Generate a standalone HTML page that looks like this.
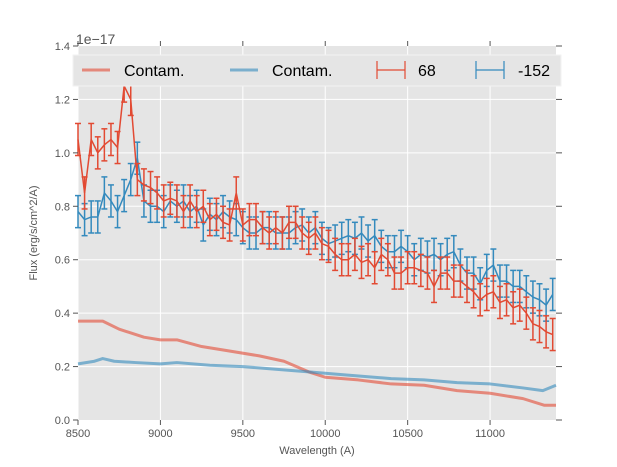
<!DOCTYPE html>
<html><head><meta charset="utf-8"><style>
html,body{margin:0;padding:0;background:#fff;}
svg{display:block;font-family:"Liberation Sans","DejaVu Sans",sans-serif;}
</style></head><body>
<svg id="chart" width="617" height="467" viewBox="0 0 617 467">
<rect x="78" y="46" width="478" height="374" fill="#e5e5e5"/>
<g id="grid"></g>
<g id="series"></g>
<g id="axes"></g>
<text x="76" y="44" font-size="14" fill="#555">1e−17</text>
<text x="317" y="454" font-size="11" fill="#555" text-anchor="middle">Wavelength (A)</text>
<text transform="translate(40,233) rotate(-90)" font-size="11" fill="#555" text-anchor="middle" dy="0" x="0" y="0" style="transform:translate(37px,233px) rotate(-90deg)">Flux (erg/s/cm^2/A)</text>
<g>
<rect x="73" y="55" width="488" height="31" fill="#e5e5e5" stroke="#f2f2f2" stroke-width="1"/>
<g>
<line x1="82" y1="70" x2="110" y2="70" stroke="#E24A33" stroke-opacity="0.6" stroke-width="3"/>
<text x="124" y="76" font-size="16" fill="#000">Contam.</text></g>
<g>
<line x1="230" y1="70" x2="258" y2="70" stroke="#348ABD" stroke-opacity="0.6" stroke-width="3"/>
<text x="272" y="76" font-size="16" fill="#000">Contam.</text></g>
<g stroke="#E24A33" stroke-width="1.2">
<line x1="377" y1="70" x2="405" y2="70"/><line x1="377" y1="61" x2="377" y2="79"/><line x1="405" y1="61" x2="405" y2="79"/>
<text x="418" y="76" font-size="16" fill="#000" stroke="none">68</text></g>
<g stroke="#348ABD" stroke-width="1.2">
<line x1="476" y1="70" x2="504" y2="70"/><line x1="476" y1="61" x2="476" y2="79"/><line x1="504" y1="61" x2="504" y2="79"/>
<text x="518" y="76" font-size="16" fill="#000" stroke="none">-152</text></g>
</g>
</svg>
<script>
const wave = [];
for (let w = 8500; w <= 11380; w += 40) wave.push(w);
const fluxRed = [1.05,0.85,1.05,1.0,1.03,1.05,1.02,1.25,1.2,0.9,0.88,0.87,0.85,0.82,0.83,0.82,0.78,0.82,0.78,0.8,0.75,0.77,0.74,0.73,0.85,0.73,0.75,0.75,0.72,0.7,0.72,0.7,0.74,0.74,0.7,0.68,0.7,0.66,0.65,0.62,0.6,0.6,0.62,0.59,0.6,0.57,0.62,0.6,0.55,0.55,0.57,0.57,0.56,0.55,0.5,0.55,0.55,0.52,0.52,0.5,0.48,0.45,0.47,0.48,0.44,0.45,0.42,0.43,0.4,0.36,0.35,0.33,0.32];
const fluxBlue = [0.78,0.75,0.76,0.76,0.85,0.82,0.78,0.84,0.9,0.98,0.82,0.8,0.8,0.78,0.82,0.8,0.82,0.78,0.8,0.73,0.77,0.75,0.78,0.76,0.75,0.72,0.7,0.7,0.72,0.72,0.7,0.7,0.7,0.72,0.73,0.7,0.72,0.68,0.66,0.67,0.68,0.69,0.68,0.7,0.67,0.69,0.65,0.63,0.63,0.65,0.63,0.6,0.62,0.61,0.62,0.6,0.62,0.63,0.58,0.55,0.55,0.51,0.56,0.58,0.52,0.52,0.5,0.5,0.48,0.46,0.45,0.43,0.47];
const errRed = 0.06;
const errBlue = 0.06;
const contamWave = [8500,8600,8650,8750,8900,9000,9100,9250,9400,9600,9750,9900,10000,10200,10400,10600,10800,11000,11200,11330,11400];
const contamRed = [0.37,0.37,0.37,0.34,0.31,0.30,0.30,0.275,0.26,0.24,0.22,0.18,0.16,0.15,0.135,0.13,0.11,0.1,0.08,0.055,0.055];
const contamWaveB = [8500,8600,8650,8720,8850,9000,9100,9300,9500,9700,9900,10100,10400,10600,10800,11000,11200,11320,11400];
const contamBlue = [0.21,0.22,0.23,0.22,0.215,0.21,0.215,0.205,0.2,0.19,0.18,0.17,0.155,0.15,0.14,0.135,0.12,0.11,0.13];
const xTicks = [8500,9000,9500,10000,10500,11000];
const yTicks = [0.0,0.2,0.4,0.6,0.8,1.0,1.2,1.4];

const X0=78, X1=556, Y0=420, Y1=46, XMIN=8500, XMAX=11400, YMIN=0, YMAX=1.4;
const xs = v => X0 + (v-XMIN)/(XMAX-XMIN)*(X1-X0);
const ys = v => Y0 - (v-YMIN)/(YMAX-YMIN)*(Y0-Y1);
const NS='http://www.w3.org/2000/svg';
function mk(tag, attrs, parent){const e=document.createElementNS(NS,tag);for(const k in attrs)e.setAttribute(k,attrs[k]);parent.appendChild(e);return e;}
const grid=document.getElementById('grid'), series=document.getElementById('series'), axes=document.getElementById('axes');

xTicks.forEach(t=>{
  const g=mk('line',{x1:xs(t),x2:xs(t),y1:Y1,y2:Y0,stroke:'#fff','stroke-width':1},grid);
  
  
  mk('line',{x1:xs(t),x2:xs(t),y1:Y0,y2:Y0+5,stroke:'#555'},axes);
  mk('line',{x1:xs(t),x2:xs(t),y1:Y1,y2:Y1-5,stroke:'#555'},axes);
  const l=mk('text',{x:xs(t),y:Y0+17,'font-size':11,fill:'#555','text-anchor':'middle'},axes);
  l.textContent=t;
  
  
});
yTicks.forEach(t=>{
  if(t>0 && t<1.4){
    const g=mk('line',{x1:X0,x2:X1,y1:ys(t),y2:ys(t),stroke:'#fff','stroke-width':1},grid);
    
    
  }
  mk('line',{x1:X0-5,x2:X0,y1:ys(t),y2:ys(t),stroke:'#555'},axes);
  mk('line',{x1:X1,x2:X1+6,y1:ys(t),y2:ys(t),stroke:'#555'},axes);
  const l=mk('text',{x:X0-8,y:ys(t)+4,'font-size':11,fill:'#555','text-anchor':'end'},axes);
  l.textContent=t.toFixed(1);
  
  
});

function contam(wv, vals, color, name){
  const p=mk('polyline',{points:wv.map((w,i)=>xs(w)+','+ys(vals[i])).join(' '),fill:'none',stroke:color,'stroke-opacity':0.6,'stroke-width':3,'stroke-linejoin':'round'},series);
  
  
}
contam(contamWave, contamRed, '#E24A33', 'contam-line-red');
contam(contamWaveB, contamBlue, '#348ABD', 'contam-line-blue');

function errs(vals, err, color, name){
  const g=mk('g',{stroke:color,'stroke-width':1.5,fill:'none'},series);
  
  
  mk('polyline',{points:wave.map((w,i)=>xs(w)+','+ys(vals[i])).join(' ')},g);
  wave.forEach((w,i)=>{
    const x=xs(w), a=ys(vals[i]+err), b=ys(vals[i]-err);
    mk('line',{x1:x,x2:x,y1:a,y2:b},g);
    mk('line',{x1:x-3,x2:x+3,y1:a,y2:a},g);
    mk('line',{x1:x-3,x2:x+3,y1:b,y2:b},g);
  });
}
errs(fluxBlue, errBlue, '#348ABD', 'errorbar-series-minus152');
errs(fluxRed, errRed, '#E24A33', 'errorbar-series-68');
</script>
</body></html>
